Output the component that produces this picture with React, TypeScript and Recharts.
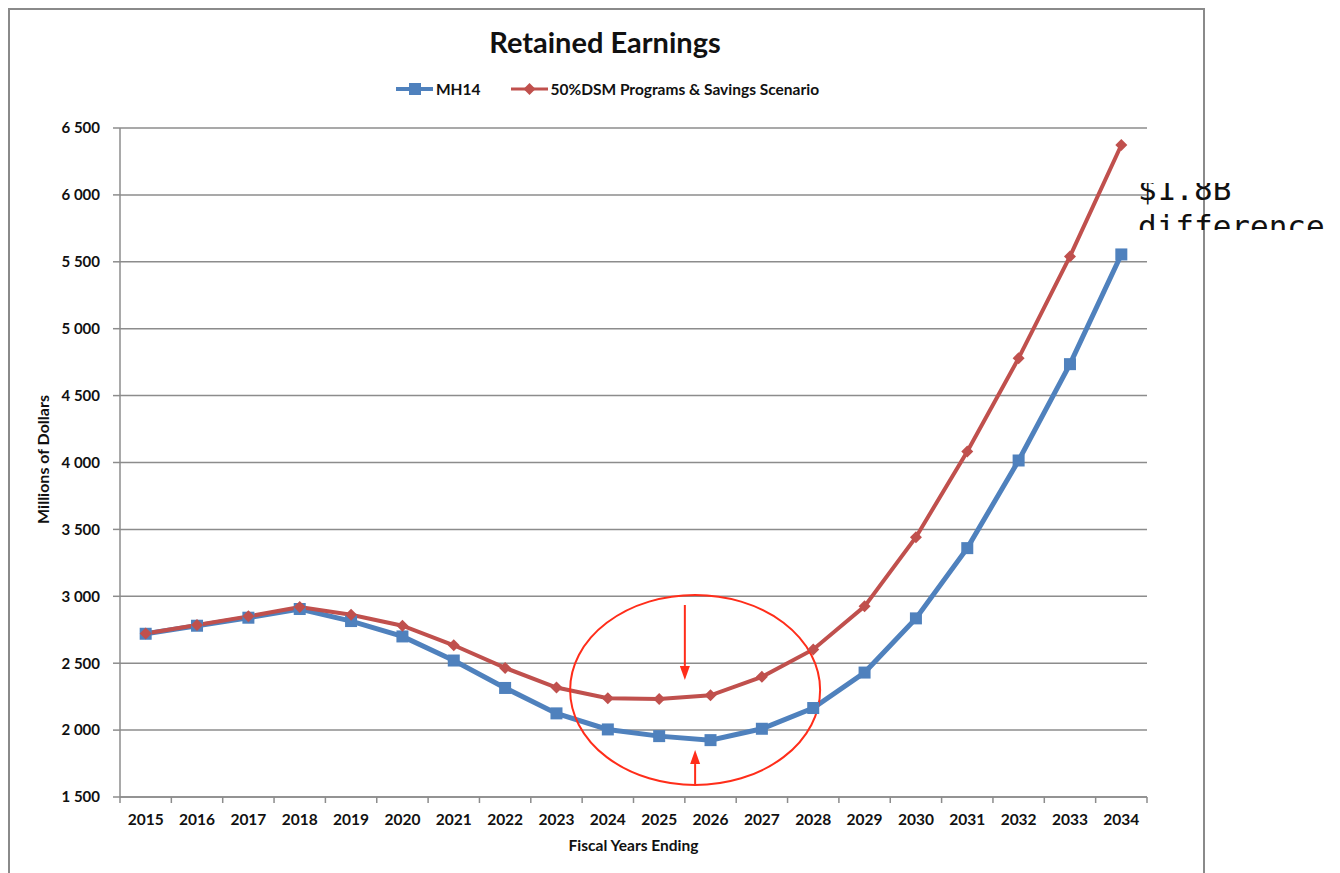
import React from 'react';
import { LineChart, Line, XAxis, YAxis, CartesianGrid, Legend, ReferenceDot, ReferenceLine } from 'recharts';

const YEARS = ['2015', '2016', '2017', '2018', '2019', '2020', '2021', '2022', '2023', '2024',
  '2025', '2026', '2027', '2028', '2029', '2030', '2031', '2032', '2033', '2034'];
const MH14 = [2720, 2780, 2840, 2905, 2815, 2700, 2520, 2315, 2125, 2005,
  1955, 1925, 2010, 2165, 2430, 2835, 3360, 4015, 4735, 5555];
const DSM50 = [2722, 2786, 2850, 2920, 2862, 2780, 2634, 2465, 2318, 2238,
  2232, 2260, 2398, 2603, 2925, 3442, 4082, 4780, 5540, 6373];
const Y_TICKS = [1500, 2000, 2500, 3000, 3500, 4000, 4500, 5000, 5500, 6000, 6500];

const BLUE = '#4F81BD';
const RED = '#C0504D';
const ANNO = '#FF2D1A';
const FONT = 'Lato, "Open Sans", sans-serif';

// x is a numeric index axis: category i sits at i + 0.5, boundaries at integers (Excel style ticks)
const data = YEARS.map((y, i) => ({ x: i + 0.5, year: y, mh14: MH14[i], dsm: DSM50[i] }));
const X_TICKS: number[] = [];
for (let i = 0; i <= YEARS.length * 2; i++) X_TICKS.push(i / 2);

const fmtY = (v: number) => {
  const s = String(v);
  return s.length > 3 ? `${s.slice(0, s.length - 3)} ${s.slice(-3)}` : s;
};

const XTick = (props: any) => {
  const { x, y, payload } = props;
  const v = payload.value as number;
  if (Number.isInteger(v)) {
    return <line x1={x} y1={y} x2={x} y2={y + 6} stroke="#8c8c8c" strokeWidth={1.5} />;
  }
  return (
    <text x={x} y={y + 28} textAnchor="middle" fontFamily={FONT} fontWeight={700} fontSize={15.5} fill="#111">
      {YEARS[Math.floor(v)]}
    </text>
  );
};

const SquareDot = (props: any) => {
  const { cx, cy, key } = props;
  if (cx == null || cy == null) return <g key={key} />;
  return <rect key={key} x={cx - 6} y={cy - 6} width={12} height={12} fill={BLUE} />;
};

const DiamondDot = (props: any) => {
  const { cx, cy, key } = props;
  if (cx == null || cy == null) return <g key={key} />;
  return <polygon key={key} points={`${cx},${cy - 6} ${cx + 6},${cy} ${cx},${cy + 6} ${cx - 6},${cy}`} fill={RED} />;
};

const Arrow = (props: any) => {
  const { x1, y1, x2, y2 } = props;
  const dir = y2 > y1 ? 1 : -1;
  const baseY = y2 - dir * 14;
  return (
    <g>
      <line x1={x1} y1={y1} x2={x2} y2={baseY} stroke={ANNO} strokeWidth={2} />
      <polygon points={`${x2},${y2} ${x2 - 5},${baseY} ${x2 + 5},${baseY}`} fill={ANNO} />
    </g>
  );
};

const LegendContent = () => (
  <div style={{ display: 'flex', justifyContent: 'center', alignItems: 'center', fontFamily: FONT, fontWeight: 700, fontSize: 15.5, color: '#111' }}>
    <svg width={37} height={12} style={{ marginRight: 3 }}>
      <line x1={0} y1={6} x2={37} y2={6} stroke={BLUE} strokeWidth={4} />
      <rect x={13} y={0} width={12} height={12} fill={BLUE} />
    </svg>
    <span style={{ marginRight: 30 }}>MH14</span>
    <svg width={37} height={12} style={{ marginRight: 3 }}>
      <line x1={0} y1={6} x2={37} y2={6} stroke={RED} strokeWidth={3} />
      <polygon points="18.5,0 24.5,6 18.5,12 12.5,6" fill={RED} />
    </svg>
    <span>50%DSM Programs &amp; Savings Scenario</span>
  </div>
);

export default function App() {
  return (
    <div style={{ position: 'absolute', left: 0, top: 0, width: 1340, height: 873, background: '#fff', overflow: 'hidden' }}>
      <div style={{ position: 'absolute', left: 8, top: 8, width: 1193, height: 900, border: '2px solid #8a8a8a' }} />
      <div style={{ position: 'absolute', left: 0, top: 24, width: 1210, textAlign: 'center', fontFamily: FONT, fontWeight: 700, fontSize: 29, color: '#111' }}>
        Retained Earnings
      </div>
      <div style={{ position: 'absolute', left: 42, top: 460, width: 0, height: 0 }}>
        <div style={{ position: 'absolute', left: -100, top: -10, width: 200, textAlign: 'center', transform: 'rotate(-90deg)', fontFamily: FONT, fontWeight: 700, fontSize: 16, color: '#111', whiteSpace: 'nowrap' }}>
          Millions of Dollars
        </div>
      </div>
      <div style={{ position: 'absolute', left: 120, top: 836, width: 1027, textAlign: 'center', fontFamily: FONT, fontWeight: 700, fontSize: 15.5, color: '#111' }}>
        Fiscal Years Ending
      </div>
      <div style={{ position: 'absolute', left: 0, top: 0 }}>
        <LineChart width={1340} height={873} data={data} margin={{ top: 128, right: 193, bottom: 0, left: 40 }}>
          <CartesianGrid horizontal vertical={false} stroke="#8c8c8c" strokeWidth={1.5} />
          <XAxis
            dataKey="x"
            type="number"
            domain={[0, YEARS.length]}
            ticks={X_TICKS}
            interval={0}
            tick={<XTick />}
            tickLine={false}
            tickSize={0}
            tickMargin={0}
            height={76}
            stroke="#8c8c8c"
            strokeWidth={1.5}
          />
          <YAxis
            type="number"
            domain={[1500, 6500]}
            ticks={Y_TICKS}
            interval={0}
            width={80}
            tickFormatter={fmtY}
            tickSize={7}
            tickMargin={13}
            stroke="#8c8c8c"
            strokeWidth={1.5}
            tick={{ fontFamily: FONT, fontWeight: 700, fontSize: 15, fill: '#111' }}
          />
          <Legend verticalAlign="middle" align="center" layout="horizontal" content={<LegendContent />}
            wrapperStyle={{ top: 80, left: 0, width: 1215 }} />
          <Line dataKey="mh14" name="MH14" stroke={BLUE} strokeWidth={5} dot={SquareDot} activeDot={false} isAnimationActive={false} />
          <Line dataKey="dsm" name="50%DSM Programs & Savings Scenario" stroke={RED} strokeWidth={4} dot={DiamondDot} activeDot={false} isAnimationActive={false} />
          <ReferenceDot x={11.2} y={2300} r={1}
            shape={(p: any) => <ellipse cx={p.cx} cy={p.cy} rx={125} ry={95} fill="none" stroke={ANNO} strokeWidth={2} />} />
          <ReferenceLine segment={[{ x: 11.0, y: 2935 }, { x: 11.0, y: 2375 }]} shape={Arrow} />
          <ReferenceLine segment={[{ x: 11.2, y: 1590 }, { x: 11.2, y: 1851 }]} shape={Arrow} ifOverflow="visible" />
        </LineChart>
      </div>
      <div style={{ position: 'absolute', left: 1138, top: 183, width: 202, height: 47, overflow: 'hidden' }}>
        <div style={{ marginTop: -12, fontFamily: '"DejaVu Sans Mono", "Liberation Mono", monospace', fontSize: 31, lineHeight: '37px', color: '#111', whiteSpace: 'pre' }}>
          {'$1.8B\ndifference'}
        </div>
      </div>
    </div>
  );
}
